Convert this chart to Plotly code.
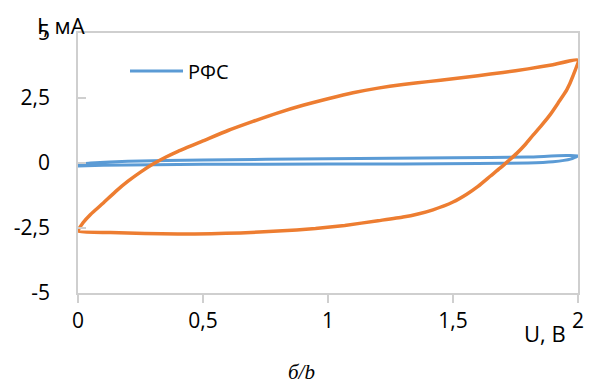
import plotly.graph_objects as go

# Orange loop (no legend entry): upper branch 0 -> 2, then lower branch 2 -> 0
orange_u = [0.0, 0.02, 0.05, 0.1, 0.15, 0.2, 0.25, 0.3, 0.35, 0.4, 0.5, 0.6, 0.7, 0.8, 0.9, 1.0,
            1.1, 1.2, 1.3, 1.4, 1.5, 1.6, 1.7, 1.8, 1.9, 2.0,
            1.98, 1.955, 1.92, 1.888, 1.85, 1.821, 1.79, 1.755, 1.72, 1.688, 1.65, 1.6, 1.555,
            1.5, 1.42, 1.36, 1.3, 1.2, 1.067, 0.95, 0.8, 0.65, 0.533, 0.4, 0.267, 0.13, 0.0]
orange_i = [-2.62, -2.3, -1.98, -1.55, -1.1, -0.7, -0.35, -0.04, 0.22, 0.45, 0.85, 1.25, 1.6,
            1.93, 2.22, 2.47, 2.7, 2.88, 3.02, 3.13, 3.24, 3.36, 3.48, 3.62, 3.78, 3.96,
            3.35, 2.81, 2.3, 1.85, 1.4, 1.08, 0.72, 0.37, 0.07, -0.2, -0.5, -0.9, -1.2,
            -1.5, -1.8, -1.96, -2.08, -2.22, -2.4, -2.52, -2.62, -2.69, -2.72, -2.73, -2.71,
            -2.67, -2.62]

# Blue loop "РФС"
blue_u = [0.0, 0.1, 0.5, 1.0, 1.3, 1.6, 1.8, 1.9, 1.97, 2.0,
          1.8, 1.5, 1.0, 0.5, 0.2, 0.05, 0.0]
blue_i = [-0.12, -0.09, -0.05, -0.04, -0.04, -0.02, 0.0, 0.05, 0.15, 0.28,
          0.23, 0.2, 0.16, 0.12, 0.07, 0.0, -0.04]

x_ticks = [0, 0.5, 1, 1.5, 2]
x_labels = ["0", "0,5", "1", "1,5", "2"]
y_ticks = [-5, -2.5, 0, 2.5, 5]
y_labels = ["-5", "-2,5", "0", "2,5", "5"]

FONT = "Open Sans"
AXIS_COLOR = "#cfcfcf"

fig = go.Figure()
fig.add_trace(go.Scatter(x=blue_u, y=blue_i, mode="lines", name="РФС",
                         line=dict(color="#5B9BD5", width=3, shape="spline", smoothing=0.5)))
fig.add_trace(go.Scatter(x=orange_u, y=orange_i, mode="lines", name="", showlegend=False,
                         line=dict(color="#ED7D31", width=3.5, shape="spline", smoothing=0.5)))

fig.update_layout(
    width=592, height=387,
    margin=dict(l=78, r=14, t=33, b=94),
    paper_bgcolor="white", plot_bgcolor="white",
    font=dict(family=FONT, size=21, color="black"),
    showlegend=True,
    legend=dict(x=0.094, y=0.854, xanchor="left", yanchor="middle",
                bgcolor="rgba(0,0,0,0)", font=dict(size=20), itemwidth=53),
    xaxis=dict(range=[0, 2], tickvals=x_ticks, ticktext=x_labels, showgrid=False, zeroline=False,
               showline=True, linecolor=AXIS_COLOR, linewidth=1.5, mirror=True,
               ticks="outside", ticklen=8, tickcolor=AXIS_COLOR, tickwidth=1.5,
               tickfont=dict(size=21), automargin=False),
    yaxis=dict(range=[-5, 5], tickvals=y_ticks, ticktext=y_labels, showgrid=False, zeroline=False,
               showline=True, linecolor=AXIS_COLOR, linewidth=1.5, mirror=True,
               ticks="inside", ticklen=8, tickcolor=AXIS_COLOR, tickwidth=1.5,
               ticklabelstandoff=22, tickfont=dict(size=21), automargin=False),
    annotations=[
        dict(text="I, мА", xref="paper", yref="paper", x=-0.086, y=1.031, xanchor="left",
             yanchor="middle", showarrow=False, font=dict(size=22)),
        dict(text="U, В", xref="paper", yref="paper", x=0.98, y=-0.154, xanchor="right",
             yanchor="middle", showarrow=False, font=dict(size=22)),
        dict(text="<i>б/b</i>", xref="paper", yref="paper", x=0.446, y=-0.304, xanchor="center",
             yanchor="middle", showarrow=False,
             font=dict(family="Liberation Serif", size=21)),
    ],
)

fig.write_html("out.html", config={"displayModeBar": False},
               post_script="document.body.style.margin='0px';")
